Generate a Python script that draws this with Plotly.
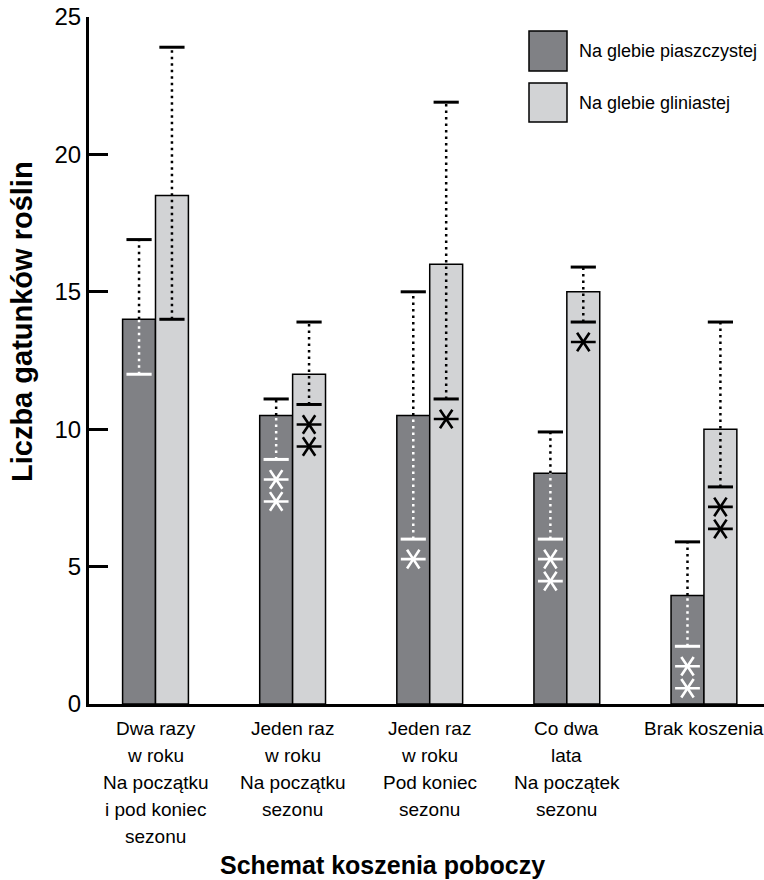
import numpy as np
import plotly.graph_objects as go

# Mowing schemes (category labels under the x axis, one list entry per line)
categories = [
    ["Dwa razy", "w roku", "Na początku", "i pod koniec", "sezonu"],
    ["Jeden raz", "w roku", "Na początku", "sezonu"],
    ["Jeden raz", "w roku", "Pod koniec", "sezonu"],
    ["Co dwa", "lata", "Na początek", "sezonu"],
    ["Brak koszenia"],
]

# Number of plant species on sandy soil
sand_mean = [14.0, 10.5, 10.5, 8.4, 3.95]
sand_low = [12.0, 8.9, 6.0, 6.0, 2.1]
sand_high = [16.9, 11.1, 15.0, 9.9, 5.9]
sand_stars = [0, 2, 1, 2, 2]

# Number of plant species on clay soil
clay_mean = [18.5, 12.0, 16.0, 15.0, 10.0]
clay_low = [14.0, 10.9, 11.1, 13.9, 7.9]
clay_high = [23.9, 13.9, 21.9, 15.9, 13.9]
clay_stars = [0, 2, 1, 1, 2]

y_ticks = [0, 5, 10, 15, 20, 25]

series_names = ["Na glebie piaszczystej", "Na glebie gliniastej"]
y_title = "Liczba gatunków roślin"
x_title = "Schemat koszenia poboczy"

DARK = "#808185"
LIGHT = "#d2d3d5"
FONT = "Liberation Sans, Arial, sans-serif"

W, H = 764, 880
ML, MR, MT, MB = 89, 0, 17, 176
PW, PH = W - ML - MR, H - MT - MB
Y_MAX = 25
px_per_unit = PH / Y_MAX

pos = np.arange(len(categories))
half = 0.12
x_sand = pos - half
x_clay = pos + half


def px_x(p):
    return (p - ML) / PW


def px_y(p):
    return (H - MB - p) / PH


fig = go.Figure()

bar_line = dict(color="black", width=1.5)
fig.add_trace(go.Bar(x=x_sand, y=sand_mean, width=2 * half,
                     marker=dict(color=DARK, line=bar_line), showlegend=False))
fig.add_trace(go.Bar(x=x_clay, y=clay_mean, width=2 * half,
                     marker=dict(color=LIGHT, line=bar_line), showlegend=False))


def segments(xs, y0s, y1s):
    xx, yy = [], []
    for x, a, b in zip(xs, y0s, y1s):
        xx += [x, x, None]
        yy += [a, b, None]
    return xx, yy


dot = "2.5px,4px"
# dotted whiskers: white inside the dark bars, black elsewhere
wx, wy = segments(x_sand, sand_low, sand_mean)
fig.add_trace(go.Scatter(x=wx, y=wy, mode="lines", showlegend=False,
                         line=dict(color="white", width=2.5, dash=dot)))
bx, by = segments(list(x_sand) + list(x_clay),
                  sand_mean + clay_low, sand_high + clay_high)
fig.add_trace(go.Scatter(x=bx, y=by, mode="lines", showlegend=False,
                         line=dict(color="black", width=2.5, dash=dot)))

# whisker caps
cap = dict(symbol="line-ew", size=18)
fig.add_trace(go.Scatter(x=x_sand, y=sand_low, mode="markers", showlegend=False,
                         marker=dict(**cap, line=dict(color="white", width=3))))
fig.add_trace(go.Scatter(x=list(x_sand) + list(x_clay) + list(x_clay),
                         y=sand_high + clay_low + clay_high,
                         mode="markers", showlegend=False,
                         marker=dict(**cap, line=dict(color="black", width=3))))


# significance asterisks stacked below the lower whisker cap
def star_points(xs, lows, counts):
    sx, sy = [], []
    for x, lo, k in zip(xs, lows, counts):
        for j in range(k):
            sx.append(x)
            sy.append(lo - (20 + 22 * j) / px_per_unit)
    return sx, sy


for xs, lows, counts, col in [(x_sand, sand_low, sand_stars, "white"),
                              (x_clay, clay_low, clay_stars, "black")]:
    sx, sy = star_points(xs, lows, counts)
    for sym in ["y-left", "y-right"]:
        fig.add_trace(go.Scatter(x=sx, y=sy, mode="markers", showlegend=False,
                                 marker=dict(symbol=sym, size=15.5,
                                             line=dict(color=col, width=2.6))))

# legend boxes and labels
shapes = []
annotations = []
for (top, bot), col, name in zip([(31, 71), (83, 122)], [DARK, LIGHT], series_names):
    shapes.append(dict(type="rect", xref="paper", yref="paper",
                       x0=px_x(529), x1=px_x(567), y0=px_y(bot), y1=px_y(top),
                       fillcolor=col, line=dict(color="black", width=1.5)))
    annotations.append(dict(xref="paper", yref="paper", x=px_x(577),
                            y=px_y((top + bot) / 2), xanchor="left", yanchor="middle",
                            text=name, showarrow=False,
                            font=dict(family=FONT, size=18, color="black")))

# category labels, one line at a time under each group
for p, lines in zip(pos, categories):
    for j, line in enumerate(lines):
        annotations.append(dict(xref="x", yref="paper", x=p, y=px_y(728 + 27 * j),
                                text=line, showarrow=False,
                                xanchor="center", yanchor="middle",
                                font=dict(family=FONT, size=19, color="black")))

annotations.append(dict(xref="paper", yref="paper", x=px_x(22), y=px_y(322),
                        text=f"<b>{y_title}</b>", textangle=-90, showarrow=False,
                        xanchor="center", yanchor="middle",
                        font=dict(family=FONT, size=29, color="black")))
annotations.append(dict(xref="paper", yref="paper", x=px_x(382), y=px_y(865),
                        text=f"<b>{x_title}</b>", showarrow=False,
                        xanchor="center", yanchor="middle",
                        font=dict(family=FONT, size=25, color="black")))

fig.update_layout(
    width=W, height=H,
    margin=dict(l=ML, r=MR, t=MT, b=MB, pad=0),
    plot_bgcolor="white", paper_bgcolor="white",
    barmode="overlay",
    shapes=shapes, annotations=annotations,
    showlegend=False,
    xaxis=dict(range=[-0.485, 4.438], showgrid=False, zeroline=False,
               showline=True, linecolor="black", linewidth=3,
               showticklabels=False, ticks=""),
    yaxis=dict(range=[0, Y_MAX], showgrid=False, zeroline=False,
               showline=True, linecolor="black", linewidth=3,
               tickvals=y_ticks, ticks="inside", ticklen=19, tickwidth=3,
               tickcolor="black",
               tickfont=dict(family=FONT, size=24, color="black")),
)

fig.write_html("out.html")
